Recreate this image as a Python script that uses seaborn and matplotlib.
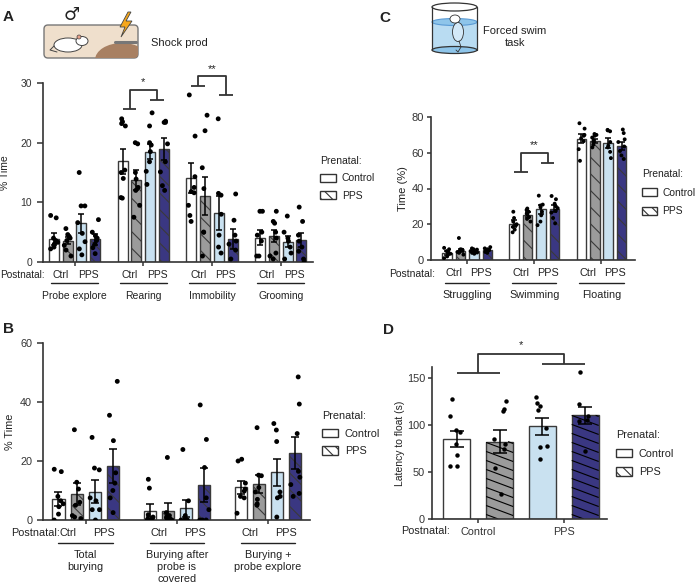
import numpy as np
import pandas as pd
import matplotlib
matplotlib.use("Agg")
import matplotlib.pyplot as plt
from matplotlib.patches import Patch, Rectangle, Ellipse, FancyBboxPatch, Polygon
from matplotlib.transforms import ScaledTranslation
import seaborn as sns

W, H = 698, 583

groups = ["Ctrl / Control", "Ctrl / PPS", "PPS / Control", "PPS / PPS"]
colors = ["#ffffff", "#9b9b9b", "#c2e3f6", "#2f2b8e"]
hatched = [False, True, False, True]

# A - shock prod (% time)
a_cats = ["Probe explore", "Rearing", "Immobility", "Grooming"]
a_means = [[3.8, 3.6, 6.5, 3.8], [16.9, 13.8, 18.5, 18.9],
           [14.1, 11.0, 8.2, 3.9], [4.1, 4.3, 3.4, 3.7]]
a_sems = [[1.0, 0.6, 1.6, 0.9], [2.1, 1.7, 1.2, 1.8],
          [2.5, 3.2, 2.8, 1.7], [1.2, 1.0, 0.9, 1.2]]
a_points = [
    [[7.8, 7.4, 4.0, 3.6, 3.3, 3.0, 2.5, 2.2], [5.6, 4.6, 4.3, 4.0, 3.6, 2.8, 2.0, 1.0],
     [15.0, 9.4, 9.4, 6.6, 4.8, 3.4, 2.2, 1.2], [7.1, 5.0, 4.4, 4.0, 3.6, 3.0, 2.4, 1.4]],
    [[24.0, 23.5, 23.2, 22.8, 15.4, 15.0, 14.0, 10.8, 10.7], [20.0, 19.8, 15.0, 13.9, 12.5, 12.0, 9.5, 7.5],
     [25.0, 22.8, 20.0, 19.6, 18.5, 16.8, 15.2, 13.0], [23.6, 23.4, 23.4, 19.8, 16.8, 15.1, 12.8, 12.0]],
    [[28.0, 21.1, 14.3, 12.5, 11.8, 11.6, 9.5, 7.8, 6.8], [24.6, 22.0, 15.8, 12.3, 5.0, 5.0, 1.0],
     [24.0, 11.5, 11.2, 8.0, 4.5, 2.5, 1.5], [11.4, 7.0, 4.5, 3.5, 3.0, 2.0, 0.5]],
    [[8.5, 8.5, 5.0, 4.5, 3.5, 1.0, 1.0], [8.5, 6.8, 6.5, 5.0, 4.0, 1.5, 1.0, 0.5],
     [7.7, 5.0, 4.0, 3.5, 2.5, 1.5, 0.5], [9.2, 6.8, 4.5, 3.5, 2.5, 1.8, 0.5, 0.0]],
]

# B - burying (% time)
b_cats = ["Total\nburying", "Burying after\nprobe is\ncovered", "Burying +\nprobe explore"]
b_means = [[7.1, 8.8, 9.6, 18.3], [3.1, 3.2, 3.9, 11.8], [11.1, 12.2, 16.2, 22.6]]
b_sems = [[2.4, 3.6, 3.8, 5.9], [2.2, 2.6, 2.9, 5.7], [2.2, 3.2, 4.6, 5.4]]
b_points = [
    [[17.2, 16.4, 8.0, 6.5, 5.5, 4.5, 2.0, 0.0], [30.6, 12.8, 10.5, 6.0, 5.0, 1.5, 1.0, 0.5],
     [28.0, 17.6, 17.0, 7.5, 6.5, 3.5, 3.5, 0.0], [47.0, 35.5, 26.9, 16.0, 12.5, 10.0, 7.5, 2.5]],
    [[13.8, 10.8, 1.8, 1.0, 0.5, 0.3, 0.0, 0.0], [21.2, 2.5, 1.5, 1.0, 0.5, 0.3, 0.0, 0.0],
     [23.9, 6.5, 1.5, 0.5, 0.0, 0.0, 0.0, 0.0], [39.0, 27.3, 17.8, 7.5, 3.5, 0.0, 0.0, 0.0]],
    [[20.6, 20.0, 12.5, 10.5, 9.8, 8.0, 7.5, 2.3], [31.3, 15.2, 15.0, 11.0, 9.5, 7.0, 5.5, 5.0],
     [32.7, 30.5, 26.6, 9.5, 8.0, 7.5, 1.0], [48.5, 39.3, 29.3, 16.5, 14.5, 12.0, 9.0, 8.0]],
]

# C - forced swim (time %)
c_cats = ["Struggling", "Swimming", "Floating"]
c_means = [[3.9, 5.1, 5.0, 5.5], [20.4, 25.2, 28.3, 28.8], [67.9, 66.7, 65.3, 63.8]]
c_sems = [[1.1, 0.9, 0.6, 0.7], [1.8, 1.4, 2.7, 2.1], [2.4, 1.0, 2.7, 2.0]]
c_points = [
    [[6.8, 6.0, 5.0, 4.0, 3.5, 2.5, 2.0, 1.0], [12.3, 6.0, 5.8, 5.5, 5.0, 4.5, 4.0, 3.0],
     [6.5, 6.0, 5.8, 5.0, 4.5, 4.2, 4.0, 3.5], [7.2, 6.5, 6.0, 5.5, 5.5, 5.0, 4.5, 4.0]],
    [[27.0, 23.5, 21.5, 20.0, 19.5, 18.5, 17.0, 15.5], [28.8, 28.0, 27.0, 26.0, 25.5, 24.0, 23.0, 21.5],
     [36.0, 31.0, 30.5, 29.5, 27.0, 25.0, 21.5, 19.5], [35.8, 34.0, 31.5, 30.0, 29.0, 27.5, 26.5, 23.5, 20.5]],
    [[76.5, 73.5, 70.0, 69.5, 68.0, 66.5, 62.0, 55.5], [70.5, 70.0, 69.5, 68.5, 67.0, 66.0, 64.5, 63.0],
     [72.8, 72.5, 72.0, 66.0, 64.0, 63.0, 60.5, 57.0], [73.0, 71.0, 67.5, 66.0, 63.5, 61.0, 58.5, 56.5]],
]

# D - latency to float (s)
d_means = [85.3, 82.5, 98.7, 110.5]
d_sems = [9.0, 12.5, 9.0, 8.8]
d_points = [[128, 110, 95, 93, 80, 68, 57, 56], [126, 117, 115, 85, 80, 75, 54, 27],
            [130, 124, 120, 116, 97, 78, 77, 64], [157, 123, 110, 105, 104, 72]]
d_ticks = ["Control", "PPS"]

HATCH = "\\\\"

sns.set_style("ticks")
plt.rcParams["font.family"] = ["Liberation Sans", "DejaVu Sans"]
plt.rcParams["hatch.linewidth"] = 0.8
plt.rcParams["axes.edgecolor"] = "#333333"
plt.rcParams["xtick.color"] = "#333333"
plt.rcParams["ytick.color"] = "#333333"
plt.rcParams["text.color"] = "#222222"
plt.rcParams["axes.labelcolor"] = "#222222"

fig = plt.figure(figsize=(W / 100, H / 100), dpi=100)
ov = fig.add_axes([0, 0, 1, 1])
ov.set_xlim(0, W)
ov.set_ylim(H, 0)
ov.set_axis_off()


def px_axes(left, right, top, bottom):
    return fig.add_axes([left / W, 1 - bottom / H, (right - left) / W, (bottom - top) / H])


def below(ax, px):
    return ax.get_xaxis_transform() + ScaledTranslation(0, -px / 100, fig.dpi_scale_trans)


def long_table(cats, values):
    rows = []
    for c, per_group in zip(cats, values):
        for g, v in zip(groups, per_group):
            for y in np.atleast_1d(v):
                rows.append((c, g, y))
    return pd.DataFrame(rows, columns=["cat", "group", "value"])


def style_axis(ax, ylim, yticks, fs, tick_len, tick_pad):
    sns.despine(ax=ax)
    ax.set_ylim(*ylim)
    ax.set_yticks(yticks)
    for s in ax.spines.values():
        s.set_linewidth(1.2)
    ax.tick_params(axis="y", length=tick_len, width=1.1, labelsize=fs, pad=tick_pad)
    ax.tick_params(axis="x", length=3, width=1.1, labelsize=fs, pad=3)
    ax.set_xlabel("")


def bar_panel(ax, cats, means, sems, points, gap, jitter, dot, cap):
    sns.barplot(data=long_table(cats, means), x="cat", y="value", hue="group",
                hue_order=groups, palette=colors, gap=gap, errorbar=None,
                edgecolor="#3a3a3a", linewidth=1.0, legend=False, ax=ax)
    bar_sets = list(ax.containers)
    centers = np.zeros((len(cats), 4))
    for j, cont in enumerate(bar_sets):
        for i, bar in enumerate(cont):
            centers[i, j] = bar.get_x() + bar.get_width() / 2
            if hatched[j]:
                bar.set_hatch(HATCH)
            ax.errorbar(centers[i, j], means[i][j], yerr=sems[i][j], fmt="none",
                        ecolor="black", elinewidth=1.1, capsize=cap, capthick=1.1, zorder=3)
    np.random.seed(7)
    sns.stripplot(data=long_table(cats, points), x="cat", y="value", hue="group",
                  hue_order=groups, palette={g: "black" for g in groups}, dodge=True,
                  jitter=jitter, size=dot, legend=False, ax=ax, zorder=4)
    ax.set_xticks(range(len(cats)))
    ax.set_xticklabels([])
    return centers


def postnatal_labels(ax, cats, centers, fs, ext, y_lab=13, y_line=21, y_cat=29):
    for i, name in enumerate(cats):
        c = centers[i]
        ax.text((c[0] + c[1]) / 2, 0, "Ctrl", transform=below(ax, y_lab), ha="center", va="center", fontsize=fs)
        ax.text((c[2] + c[3]) / 2, 0, "PPS", transform=below(ax, y_lab), ha="center", va="center", fontsize=fs)
        ax.plot([c[0] - ext, c[3] + ext], [0, 0], transform=below(ax, y_line), color="#222222",
                lw=1.0, clip_on=False)
        ax.text((c[0] + c[3]) / 2, 0, name, transform=below(ax, y_cat), ha="center", va="top",
                fontsize=fs, linespacing=1.25)


def bracket(ax, left, right, yl, yr, ytop, label, ylab, fs=8):
    xl = (left[0] + left[1]) / 2
    xr = (right[0] + right[1]) / 2
    kw = dict(color="#333333", lw=1.3, clip_on=False, solid_capstyle="butt")
    ax.plot(left, [yl, yl], **kw)
    ax.plot([xl, xl, xr, xr], [yl, ytop, ytop, yr], **kw)
    ax.plot(right, [yr, yr], **kw)
    ax.text((xl + xr) / 2, ylab, label, ha="center", va="center", fontsize=fs, clip_on=False)


def prenatal_legend(x, y, fs, spacing=0.7, textpad=0.6):
    handles = [Patch(facecolor="white", edgecolor="#333333", lw=1.0, label="Control"),
               Patch(facecolor="white", edgecolor="#333333", lw=1.0, hatch="\\\\\\", label="PPS")]
    fig.legend(handles=handles, title="Prenatal:", loc="upper left",
               bbox_to_anchor=(x / W, 1 - y / H), frameon=False, fontsize=fs,
               title_fontsize=fs, alignment="left", borderpad=0, borderaxespad=0,
               handlelength=1.5, handleheight=0.8, handletextpad=textpad, labelspacing=spacing)


# ---- A
axA = px_axes(43, 313, 83, 262)
cA = bar_panel(axA, a_cats, a_means, a_sems, a_points, gap=0.27, jitter=0.23, dot=3.5, cap=2.5)
axA.set_xlim(-0.46, 3.47)
style_axis(axA, (0, 30), [0, 10, 20, 30], 7.5, 4.3, 3.5)
axA.set_ylabel("% Time", fontsize=7.5)
axA.yaxis.set_label_coords(-0.122, 0.5)
postnatal_labels(axA, a_cats, cA, 7.5, 0.04)
bracket(axA, cA[1, :2], cA[1, 2:], 25.7, 27.1, 28.8, "*", 30.2)
bracket(axA, cA[2, :2], cA[2, 2:], 29.5, 28.0, 31.1, "**", 32.4)
ov.text(45, 275, "Postnatal:", ha="right", va="center", fontsize=7.2)
prenatal_legend(320, 156, 7.5)

# ---- B
axB = px_axes(43, 310, 343, 520)
cB = bar_panel(axB, b_cats, b_means, b_sems, b_points, gap=0.34, jitter=0.22, dot=3.5, cap=3.0)
axB.set_xlim(-0.47, 2.46)
style_axis(axB, (0, 60), [0, 20, 40, 60], 7.8, 4.3, 3.5)
axB.set_ylabel("% Time", fontsize=7.8)
axB.yaxis.set_label_coords(-0.105, 0.5)
postnatal_labels(axB, b_cats, cB, 7.8, 0.0, y_line=23, y_cat=30)
ov.text(60, 533, "Postnatal:", ha="right", va="center", fontsize=7.8)
prenatal_legend(322, 411, 7.8)

# ---- C
axC = px_axes(431, 635, 117, 260)
cC = bar_panel(axC, c_cats, c_means, c_sems, c_points, gap=0.29, jitter=0.21, dot=2.8, cap=2.2)
axC.set_xlim(-0.54, 2.5)
style_axis(axC, (0, 80), [0, 20, 40, 60, 80], 8, 3.0, 2.0)
axC.set_ylabel("Time (%)", fontsize=8)
axC.yaxis.set_label_coords(-0.113, 0.5)
postnatal_labels(axC, c_cats, cC, 7.8, 0.03, y_line=23, y_cat=30)
bracket(axC, cC[1, :2], cC[1, 2:], 49.5, 54.1, 59.8, "**", 64.5)
ov.text(435, 274, "Postnatal:", ha="right", va="center", fontsize=7.5)
prenatal_legend(642, 169, 7.4, spacing=0.85, textpad=0.45)

# ---- D
axD = px_axes(432, 607, 367, 519)
d_bars = pd.DataFrame({"group": groups, "value": d_means})
sns.barplot(data=d_bars, x="group", y="value", hue="group", hue_order=groups, order=groups,
            palette=colors, width=0.63, errorbar=None, edgecolor="#3a3a3a", linewidth=1.0,
            legend=False, ax=axD)
d_sets = list(axD.containers)
cD = np.array([cont[0].get_x() + cont[0].get_width() / 2 for cont in d_sets])
# shallow hatch lines like the original, cut to each PPS bar outline
drop, step = 10.7, 9.6
for j, cont in enumerate(d_sets):
    bar = cont[0]
    if hatched[j]:
        x0, x1, h = bar.get_x(), bar.get_x() + bar.get_width(), bar.get_height()
        slope = drop / (x1 - x0)
        for c in np.arange(step / 2, h + drop, step):
            xa = max(x0, x0 + (c - h) / slope)
            xb = min(x1, x0 + c / slope)
            if xb > xa:
                axD.plot([xa, xb], [c - slope * (xa - x0), c - slope * (xb - x0)],
                         color="black", lw=0.8, zorder=2, solid_capstyle="butt")
    axD.errorbar(cD[j], d_means[j], yerr=d_sems[j], fmt="none", ecolor="black",
                 elinewidth=1.1, capsize=5.0, capthick=1.1, zorder=3)
d_pts = pd.DataFrame([(g, v) for g, vals in zip(groups, d_points) for v in vals],
                     columns=["group", "value"])
np.random.seed(11)
sns.stripplot(data=d_pts, x="group", y="value", order=groups, color="black", jitter=0.16,
              size=3.2, ax=axD, zorder=4)
axD.set_xlim(-0.58, 3.51)
style_axis(axD, (0, 162), [0, 50, 100, 150], 7.8, 3.0, 2.0)
axD.set_xticks([(cD[0] + cD[1]) / 2, (cD[2] + cD[3]) / 2])
axD.set_xticklabels(d_ticks)
axD.set_ylabel("Latency to float (s)", fontsize=7.5)
axD.yaxis.set_label_coords(-0.154, 0.5)
bracket(axD, cD[:2], cD[2:], 155.7, 165.0, 175.6, "*", 185.5)
ov.text(450, 531, "Postnatal:", ha="right", va="center", fontsize=7.8)
prenatal_legend(616, 430, 7.8, spacing=0.8)

# ---- panel letters and illustrations
for lab, x, y in [("A", 8, 17), ("B", 8, 329), ("C", 385, 18), ("D", 388, 330)]:
    ov.text(x, y, lab, ha="center", va="center", fontsize=11, fontweight="bold")

cage = FancyBboxPatch((44, 25), 94, 33, boxstyle="round,pad=0,rounding_size=4",
                      fc="#efdfcc", ec="#777777", lw=1.0)
ov.add_patch(cage)
mound = Ellipse((122, 60), 54, 34, fc="#a88062", ec="none")
mound.set_clip_path(cage)
ov.add_patch(mound)
ov.add_patch(Ellipse((68, 45), 28, 14, fc="white", ec="#444444", lw=0.7))
ov.add_patch(Ellipse((82, 41), 12, 9, fc="white", ec="#444444", lw=0.7))
ov.add_patch(Ellipse((79, 37), 4, 4, fc="#e8a08a", ec="#444444", lw=0.5))
ov.plot([54, 50, 57], [46, 50, 52], color="#444444", lw=0.7)
ov.plot([115, 136], [42, 42], color="#777777", lw=2.2)
ov.add_patch(Polygon([(128, 12), (120, 27), (125, 27), (121, 37), (132, 21), (126, 21), (131, 12)],
                     fc="#f6a71c", ec="#444444", lw=0.6))
ov.text(72, 15, "\u2642", ha="center", va="center", fontsize=13, family="DejaVu Sans")
ov.text(151, 43, "Shock prod", ha="left", va="center", fontsize=8)

ov.add_patch(Rectangle((432, 22), 45, 28, fc="#b9dcf2", ec="none"))
ov.add_patch(Ellipse((454.5, 50), 45, 7, fc="#8ec5ea", ec="#333333", lw=0.9))
ov.add_patch(Ellipse((454.5, 22), 45, 7, fc="#8ec5ea", ec="#5b9bd5", lw=0.8))
ov.add_patch(Ellipse((454.5, 7), 45, 8, fc="none", ec="#333333", lw=0.9))
ov.plot([432, 432], [7, 50], color="#333333", lw=0.9)
ov.plot([477, 477], [7, 50], color="#333333", lw=0.9)
ov.add_patch(Ellipse((458, 32), 11, 19, fc="#d3e9f8", ec="#333333", lw=0.6))
ov.add_patch(Ellipse((455, 19), 10, 8, fc="white", ec="#333333", lw=0.6))
ov.plot([459, 461, 458, 456], [41, 47, 52, 50], color="#333333", lw=0.6)
ov.text(515, 37, "Forced swim\ntask", ha="center", va="center", fontsize=8, linespacing=1.2)

fig.savefig("out.png", dpi=100)
